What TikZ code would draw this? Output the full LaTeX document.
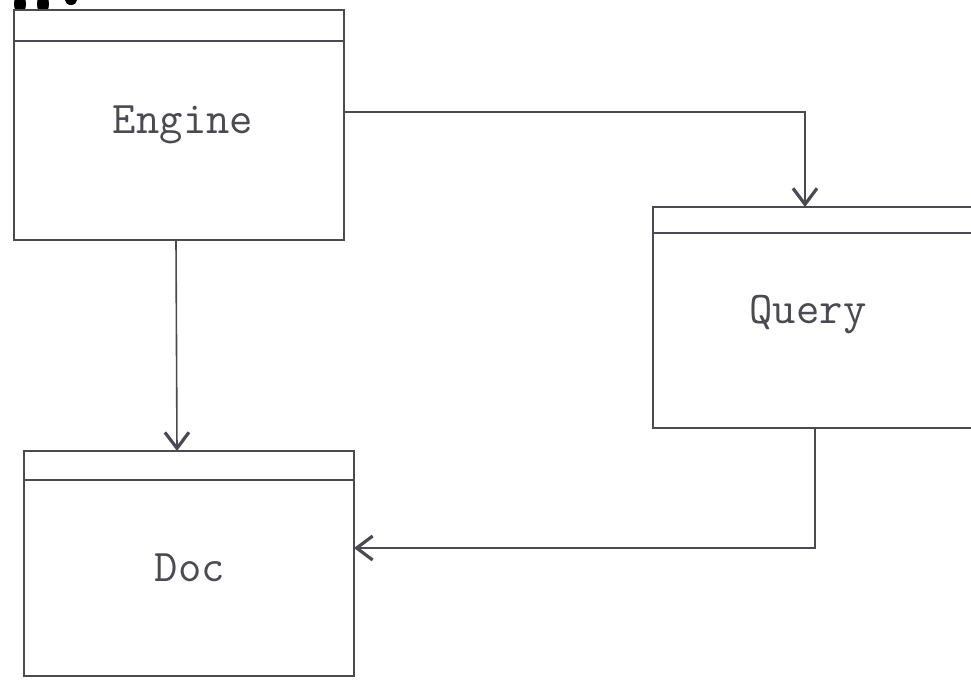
\documentclass[tikz,border=0pt]{standalone}
\usetikzlibrary{arrows.meta}
\definecolor{ink}{HTML}{4A4A50}
\tikzset{
  classbox/.style={draw=ink, line width=1.2pt, fill=white},
  conn/.style={draw=ink, line width=1.2pt, -{Straight Barb[length=12pt,width=18pt,line width=2.4pt]}},
  lbl/.style={text=ink, font=\fontsize{34}{40}\selectfont\ttfamily},
  blob/.style={fill=black, draw=none}
}
\begin{document}
\begin{tikzpicture}[x=0.75pt,y=-0.75pt]
\useasboundingbox (0,0) rectangle (971,683);
\clip (0,0) rectangle (971,683);
% marks at top-left
\fill[blob] (20,4) ellipse (6 and 10);
\fill[blob] (43,4) ellipse (6 and 10);
\fill[blob] (71,0) ellipse (6 and 5);
% Engine
\draw[classbox] (14,10) rectangle (344,240);
\draw[ink, line width=1.2pt] (14,41) -- (344,41);
\node[lbl] (engine) at (183,125) {Engine};
\coordinate (engineR) at (344,112);
\coordinate (engineB) at (176,240);
% Query
\draw[classbox] (653,207) rectangle (995,428);
\draw[ink, line width=1.2pt] (653,233) -- (995,233);
\node[lbl] (query) at (808,315) {Query};
\coordinate (queryT) at (805,207);
\coordinate (queryB) at (815,428);
% Doc
\draw[classbox] (24,451) rectangle (354,676);
\draw[ink, line width=1.2pt] (24,480) -- (354,480);
\node[lbl] (doc) at (190,568) {Doc};
\coordinate (docT) at (177,451);
\coordinate (docR) at (354,548);
% connectors
\draw[conn] (engineR) -- (805,112) -- (queryT);
\draw[conn] (engineB) -- (docT);
\draw[conn] (queryB) -- (815,548) -- (docR);
\end{tikzpicture}
\end{document}
